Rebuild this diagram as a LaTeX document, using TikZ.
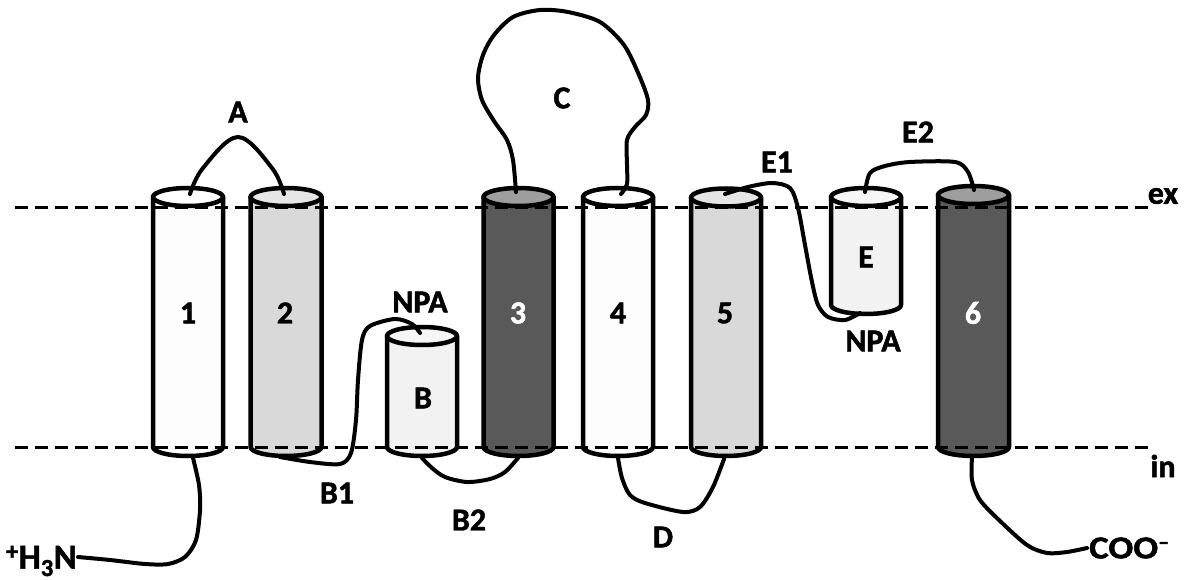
\documentclass[tikz,border=0pt]{standalone}
\usepackage{fontspec}
\setmainfont{Carlito}[BoldFeatures={FakeBold=1.5}]
\definecolor{cwhite}{HTML}{FDFDFD}
\definecolor{clight}{HTML}{D9D9D9}
\definecolor{clighttop}{HTML}{E6E6E6}
\definecolor{cpale}{HTML}{F2F2F2}
\definecolor{cpaletop}{HTML}{F6F6F6}
\definecolor{cdark}{HTML}{595959}
\definecolor{cdarktop}{HTML}{9E9E9E}
\newcommand\drawcyl[6]{%
  \filldraw[cylline, fill=#5] ({#1-#2},#3) -- ({#1-#2},#4)
     arc[start angle=180,end angle=360,x radius=#2pt,y radius=9pt] -- ({#1+#2},#3) -- cycle;
  \filldraw[cylline, fill=#6] (#1,#3) ellipse[x radius=#2pt, y radius=9pt];
}
\begin{document}
\begin{tikzpicture}[x=1pt,y=-1pt,
  cylline/.style={line width=4.5pt, draw=black, line join=round},
  loopline/.style={line width=4pt, draw=black, line cap=round, line join=round},
  memb/.style={line width=3pt, dash pattern=on 13pt off 7pt},
  lab/.style={font=\fontsize{32}{36}\selectfont\bfseries, inner sep=0pt},
  wlab/.style={lab, text=white}]
\useasboundingbox (0,0) rectangle (1187,580);
% cylinders
\drawcyl{188}{35}{197}{447}{cwhite}{white}
\drawcyl{286}{35.5}{197}{447}{clight}{clighttop}
\drawcyl{422}{35}{336}{447}{cpale}{cpaletop}
\drawcyl{518.5}{35}{197}{447}{cdark}{cdarktop}
\drawcyl{618}{35}{197}{447}{cwhite}{white}
\drawcyl{726}{35}{197.5}{447}{clight}{clighttop}
\drawcyl{866}{35}{197}{305}{cpale}{cpaletop}
\drawcyl{973.5}{35.5}{195}{447}{cdark}{cdarktop}
% membrane lines
\coordinate (exL) at (15,208);
\coordinate (exR) at (1152,208);
\coordinate (inL) at (15,447);
\coordinate (inR) at (1152,447);
\draw[memb] (exL) -- (exR);
\draw[memb] (inL) -- (inR);
% attachment points
\coordinate (t1) at (190,194);
\coordinate (t2) at (284,194);
\coordinate (b2) at (280,457);
\coordinate (tB) at (420,333);
\coordinate (bB) at (422,458);
\coordinate (b3) at (518,458);
\coordinate (t3) at (516,192);
\coordinate (t4) at (621,194);
\coordinate (b4) at (618,458);
\coordinate (b5) at (724,459);
\coordinate (t5) at (725,194);
\coordinate (bE) at (860,313);
\coordinate (tE) at (865,192);
\coordinate (t6) at (974,190);
\coordinate (b1) at (193,458);
\coordinate (b6) at (972,457);
\coordinate (Nend) at (78,557);
\coordinate (Cend) at (1087,548);
% loops
\draw[loopline] plot[smooth, tension=0.6] coordinates {(t1) (203,168) (238,137) (272,168) (t2)};
\draw[loopline] plot[smooth, tension=0.5] coordinates {(b2) (310,462) (340,464) (351,453) (356,420) (358,380) (362,340) (370,326) (395,319) (412,324) (tB)};
\draw[loopline] plot[smooth, tension=0.5] coordinates {(bB) (432,468) (445,477) (467,482) (490,479) (505,472) (b3)};
\draw[loopline] plot[smooth, tension=0.5] coordinates {(t3) (513,160) (507,140) (494,121) (482,100) (478,78) (483,55) (494,35) (513,17) (540,10) (568,12) (600,22) (624,45) (639,75) (648,100) (646,115) (635,127) (627,140) (627,165) (627,184) (t4)};
\draw[loopline] plot[smooth, tension=0.5] coordinates {(b4) (622,478) (630,495) (645,503) (683,512) (700,507) (713,487) (b5)};
\draw[loopline] plot[smooth, tension=0.5] coordinates {(t5) (748,187) (772,183) (790,188) (798,208) (805,245) (812,282) (818,305) (828,317) (845,320) (bE)};
\draw[loopline] plot[smooth, tension=0.5] coordinates {(tE) (870,173) (885,166) (910,162) (955,162) (968,172) (t6)};
\draw[loopline] plot[smooth, tension=0.5] coordinates {(b1) (199,485) (200,510) (196,540) (185,557) (168,564) (145,564) (110,560) (Nend)};
\draw[loopline] plot[smooth, tension=0.5] coordinates {(b6) (972,480) (980,500) (1000,521) (1027,545) (1047,553) (1067,552) (Cend)};
% labels
\node[lab] (l1) at (188,313) {1};
\node[lab] (l2) at (285,313) {2};
\node[wlab] (l3) at (518,313) {3};
\node[lab] (l4) at (618,313) {4};
\node[lab] (l5) at (725,313) {5};
\node[wlab] (l6) at (973,313) {6};
\node[lab] (lB) at (423,398) {B};
\node[lab] (lE) at (866,257) {E};
\node[lab] (lA) at (238,112) {A};
\node[lab] (lC) at (562,98) {C};
\node[lab] (lE1) at (777,162) {E1};
\node[lab] (lE2) at (918,132) {E2};
\node[lab] (lNPA1) at (420,302) {NPA};
\node[lab] (lNPA2) at (873,341) {NPA};
\node[lab] (lB1) at (337,493) {B1};
\node[lab] (lB2) at (469,520) {B2};
\node[lab] (lD) at (663,537) {D};
\node[lab] (lex) at (1163,196) {ex};
\node[lab] (lin) at (1163,466) {in};
\node[lab, anchor=east, font=\fontsize{35}{38}\selectfont\bfseries] (lN) at (77,561) {\textsuperscript{+}H\textsubscript{3}N};
\node[lab, anchor=west] (lCOO) at (1089,548) {\scalebox{1.15}[1]{COO}\textsuperscript{--}};
\end{tikzpicture}
\end{document}
